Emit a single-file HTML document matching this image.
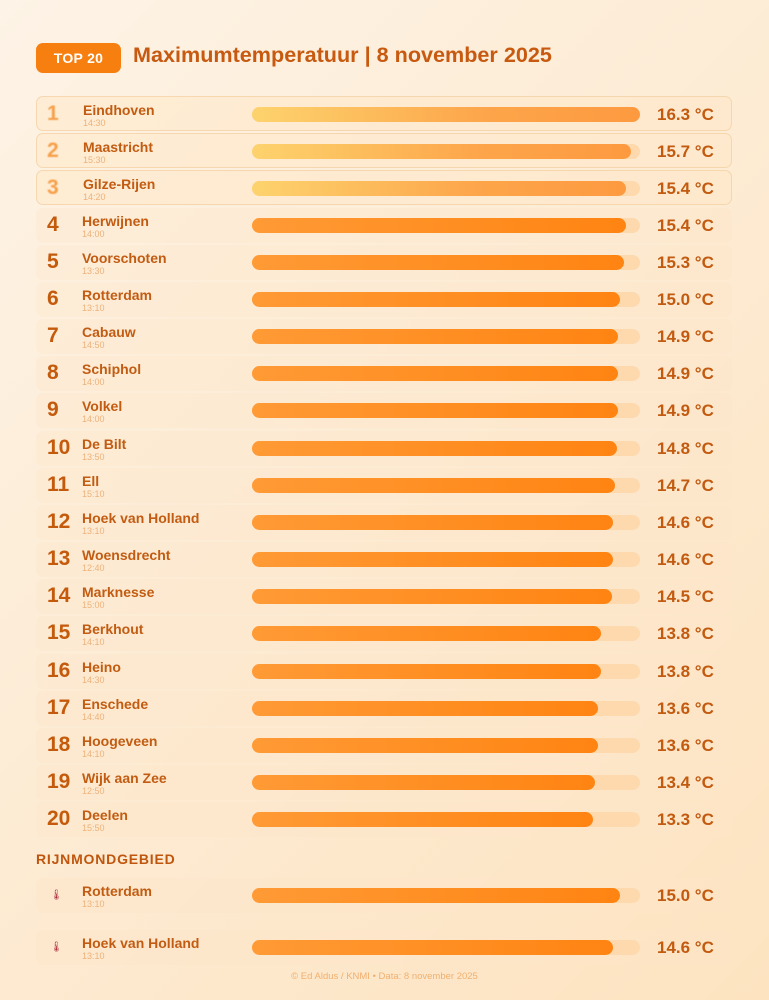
<!DOCTYPE html>
<html><head><meta charset="utf-8">
<style>
*{margin:0;padding:0;box-sizing:border-box}
body{width:769px;height:1000px;overflow:hidden;font-family:"Liberation Sans",sans-serif;background:linear-gradient(135deg,#fdf3e6 0%,#fdebd3 50%,#fde3c0 100%);position:relative}
.badge{position:absolute;left:36px;top:43px;width:85px;height:30px;border-radius:7px;background:#f77f0f;color:#fff;font-weight:bold;font-size:14px;text-align:center;line-height:30px;letter-spacing:.3px}
.title{position:absolute;left:133px;top:42px;font-size:21.6px;font-weight:bold;color:#c75a10}
.row{position:absolute;left:36px;width:696px;height:35px;border-radius:7px;background:rgba(253,230,200,.35)}
.row.top{background:rgba(255,232,200,.55);border:1px solid rgba(240,200,150,.6)}
.rank{position:absolute;left:11px;top:5px;font-size:21px;font-weight:bold;color:#c45a0c}
.row.top .rank{color:#f6a04a;filter:blur(.6px);left:10px}
.name{position:absolute;left:46px;top:5px;font-size:14px;font-weight:bold;color:#c25c12;white-space:nowrap}
.time{position:absolute;left:46px;top:21px;font-size:9px;color:#edb27a}
.track{position:absolute;left:216px;top:10px;width:388px;height:15px;border-radius:8px;background:#fdd9ad}
.row.top .track{left:215px}
.bar{position:absolute;left:0;top:0;height:15px;border-radius:8px;background:linear-gradient(90deg,#ff9a35,#ff8412)}
.row.top .bar{background:linear-gradient(90deg,#fdd36e,#fda54a 60%,#fd9a40)}
.val{position:absolute;left:621px;top:8px;font-size:17px;font-weight:bold;color:#c25a10;white-space:nowrap}
.row.top .val{left:620px}
.sec{position:absolute;left:36px;top:851px;font-size:14px;font-weight:bold;color:#c0560e;letter-spacing:.8px}
.icon{position:absolute;left:14px;top:12px;font-size:10px;color:#b03040}
.foot{position:absolute;left:0;width:769px;top:971px;text-align:center;font-size:9.5px;color:#f0b070}
</style></head><body>
<div class="badge">TOP 20</div>
<div class="title">Maximumtemperatuur | 8 november 2025</div>
<div id="list"></div>
<div class="sec">RIJNMONDGEBIED</div>
<div id="rij"></div>
<div class="foot">© Ed Aldus / KNMI • Data: 8 november 2025</div>
<script>
const stations=["Eindhoven","Maastricht","Gilze-Rijen","Herwijnen","Voorschoten","Rotterdam","Cabauw","Schiphol","Volkel","De Bilt","Ell","Hoek van Holland","Woensdrecht","Marknesse","Berkhout","Heino","Enschede","Hoogeveen","Wijk aan Zee","Deelen"];
const times=["14:30","15:30","14:20","14:00","13:30","13:10","14:50","14:00","14:00","13:50","15:10","13:10","12:40","15:00","14:10","14:30","14:40","14:10","12:50","15:50"];
const temps=[16.3,15.7,15.4,15.4,15.3,15.0,14.9,14.9,14.9,14.8,14.7,14.6,14.6,14.5,13.8,13.8,13.6,13.6,13.4,13.3];
const rijStations=["Rotterdam","Hoek van Holland"];
const rijTimes=["13:10","13:10"];
const rijTemps=[15.0,14.6];
const domMin=-8.5, domMax=16.3, trackW=388;
function xw(v){return trackW*(v-domMin)/(domMax-domMin);}
function makeRow(parent,top,label,name,time,v,isTop,icon){
  const r=document.createElement('div');
  r.className='row'+(isTop?' top':'');
  r.style.top=top+'px';
  
  
  const rk=document.createElement('div');
  rk.className=icon?'icon':'rank';
  rk.textContent=icon?'🌡':label;
  
  
  const n=document.createElement('div');n.className='name';n.textContent=name;
  
  
  const t=document.createElement('div');t.className='time';t.textContent=time;
  
  
  const tr=document.createElement('div');tr.className='track';
  
  
  const b=document.createElement('div');b.className='bar';b.style.width=xw(v)+'px';
  
  
  tr.appendChild(b);
  const vl=document.createElement('div');vl.className='val';vl.textContent=v.toFixed(1)+' °C';
  
  
  r.append(rk,n,t,tr,vl);
  parent.appendChild(r);
}
const list=document.getElementById('list');
stations.forEach((s,i)=>makeRow(list,96+i*37.17,String(i+1),s,times[i],temps[i],i<3,false));
const rij=document.getElementById('rij');
rijStations.forEach((s,i)=>makeRow(rij,878+i*52,'',s,rijTimes[i],rijTemps[i],false,true));
</script>
</body></html>
